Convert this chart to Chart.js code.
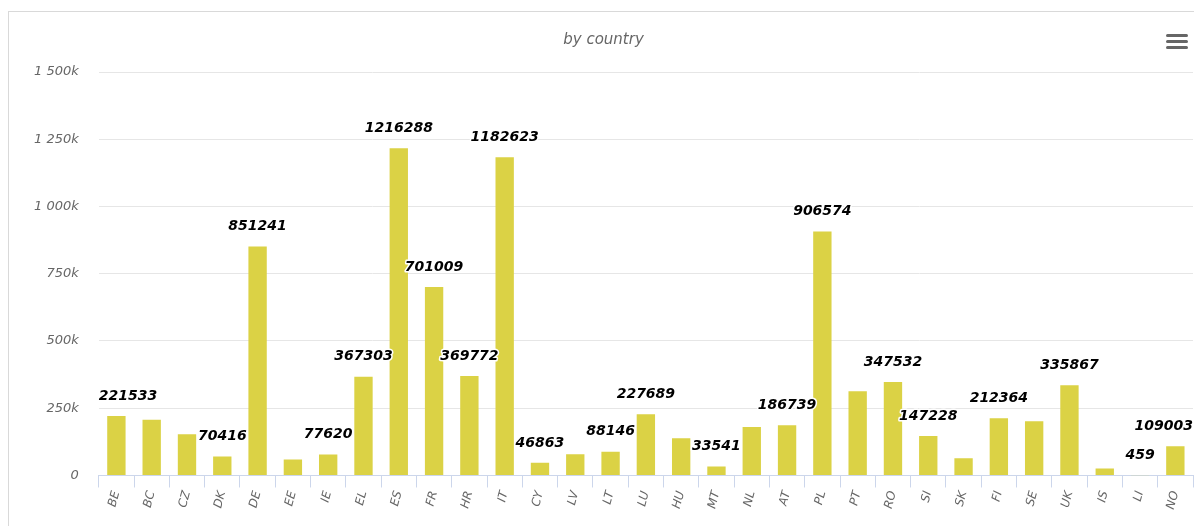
<!DOCTYPE html>
<html>
<head>
<meta charset="utf-8">
<script src="https://cdn.jsdelivr.net/npm/chart.js@4"></script>
<style>
    body { margin: 0; background: #fff; overflow: hidden; }
    #wrap { position: relative; width: 1194px; height: 526px; }
    #frame { position: absolute; left: 8px; top: 11px; width: 1200px; height: 600px; border: 1px solid #d9d9d9; }
    #chart { position: absolute; left: 0; top: 0; }
    #menu { position: absolute; left: 1166px; top: 34px; width: 22px; }
    #menu span { display: block; height: 3px; background: #666; border-radius: 2px; margin-bottom: 3px; }
</style>
</head>
<body>
<div id="wrap">
    <div id="frame"></div>
    <canvas id="chart" width="1194" height="526"></canvas>
    <div id="menu"><span></span><span></span><span></span></div>
</div>
<script>
// chart data
const countries = ['BE', 'BC', 'CZ', 'DK', 'DE', 'EE', 'IE', 'EL', 'ES', 'FR', 'HR', 'IT', 'CY', 'LV', 'LT', 'LU',
    'HU', 'MT', 'NL', 'AT', 'PL', 'PT', 'RO', 'SI', 'SK', 'FI', 'SE', 'UK', 'IS', 'LI', 'NO'];
const values = [221533, 207000, 153000, 70416, 851241, 59000, 77620, 367303, 1216288, 701009, 369772, 1182623,
    46863, 79000, 88146, 227689, 138000, 33541, 180000, 186739, 906574, 313000, 347532, 147228, 64000,
    212364, 202000, 335867, 26000, 459, 109003];
// countries whose value label is visible in the picture
const labelled = ['BE', 'DK', 'DE', 'IE', 'EL', 'ES', 'FR', 'HR', 'IT', 'CY', 'LT', 'LU', 'MT', 'AT', 'PL',
    'RO', 'SI', 'FI', 'UK', 'LI', 'NO'];
const yMax = 1500000;
const yStep = 250000;

const FONT = '"DejaVu Sans", Verdana, sans-serif';

function fmtK(v) {
    if (v === 0) return '0';
    return String(v / 1000).replace(/\B(?=(\d{3})+(?!\d))/g, ' ') + 'k';
}

const valueLabels = {
    id: 'valueLabels',
    afterDatasetsDraw(chart) {
        const ctx = chart.ctx;
        const area = chart.chartArea;
        const meta = chart.getDatasetMeta(0);
        ctx.save();
        ctx.font = 'italic bold 14px ' + FONT;
        ctx.textBaseline = 'middle';
        ctx.textAlign = 'left';
        ctx.lineJoin = 'round';
        meta.data.forEach((bar, i) => {
            if (!labelled.includes(countries[i])) return;
            const text = String(values[i]);
            const w = ctx.measureText(text).width;
            let x = bar.x - w / 2;
            if (x < area.left) x = area.left;
            if (x + w > area.right) x = area.right - w;
            const y = bar.y - 20;
            ctx.strokeStyle = '#fff';
            ctx.lineWidth = 3;
            ctx.strokeText(text, x, y);
            ctx.fillStyle = '#000';
            ctx.fillText(text, x, y);
        });
        ctx.restore();
    }
};

new Chart(document.getElementById('chart').getContext('2d'), {
    type: 'bar',
    data: {
        labels: countries,
        datasets: [{
            data: values,
            backgroundColor: '#dbd245',
            borderWidth: 0,
            barPercentage: 0.52,
            categoryPercentage: 1.0
        }]
    },
    options: {
        responsive: false,
        animation: false,
        layout: { padding: { left: 14, right: 1, top: 0, bottom: 13 } },
        plugins: {
            legend: { display: false },
            tooltip: { enabled: false },
            title: {
                display: true,
                text: 'by country',
                color: '#666',
                font: { family: FONT, size: 15, style: 'italic', weight: 'normal' },
                padding: { top: 31, bottom: 23 }
            }
        },
        scales: {
            x: {
                grid: {
                    offset: true,
                    drawOnChartArea: false,
                    drawTicks: true,
                    tickLength: 12,
                    color: '#ccd6eb'
                },
                border: { display: true, color: '#ccd6eb' },
                ticks: {
                    color: '#666',
                    minRotation: 75,
                    maxRotation: 75,
                    autoSkip: false,
                    padding: 2,
                    font: { family: FONT, size: 12, style: 'italic' }
                }
            },
            y: {
                min: 0,
                max: yMax,
                grid: { color: '#e6e6e6', drawTicks: false },
                border: { display: false },
                ticks: {
                    stepSize: yStep,
                    padding: 20,
                    color: '#666',
                    font: { family: FONT, size: 13, style: 'italic' },
                    callback: v => fmtK(v)
                }
            }
        }
    },
    plugins: [valueLabels]
});
</script>
</body>
</html>
